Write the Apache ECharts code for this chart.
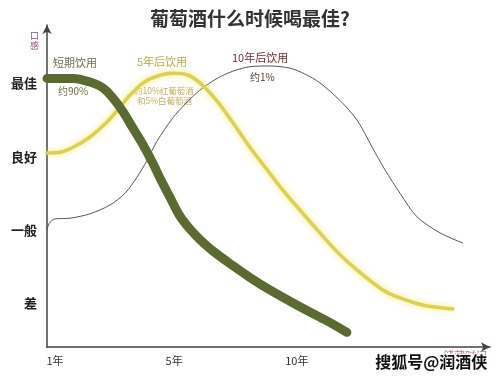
<!DOCTYPE html>
<html><head><meta charset="utf-8">
<script src="https://cdn.jsdelivr.net/npm/echarts@6/dist/echarts.min.js"></script>
<style>html,body{margin:0;padding:0;background:#fff}#c{width:500px;height:382px}</style>
</head><body><div id="c"></div>
<script>
// x: time position (0..100 along axis), y: taste level (1=差 .. 4=最佳)
const xTickPos = [1.8, 28.7, 56.4];
const xTickLabels = ['1年', '5年', '10年'];
const yTickPos = [1, 2, 3, 4];
const yTickLabels = ['差', '一般', '良好', '最佳'];

const shortTermX = [0, 5.9, 9.7, 12.6, 14.9, 17.2, 19.4, 21.7, 23.9, 25.5, 27.8, 30.0, 32.3, 34.5, 37.5, 42.0, 45.8, 50.3, 57.1, 62.8, 67.7];
const shortTermY = [4.07, 4.07, 4.02, 3.94, 3.80, 3.61, 3.39, 3.16, 2.91, 2.71, 2.44, 2.19, 2.01, 1.87, 1.71, 1.51, 1.35, 1.18, 0.95, 0.77, 0.60];

const fiveYearX = [0, 2.9, 5.9, 9.7, 13.5, 16.5, 18.7, 21.7, 24.8, 28.4, 31.6, 34.5, 38.4, 42.0, 45.8, 49.7, 53.3, 57.1, 61.6, 65.5, 70.0, 75.8, 79.7, 85.0, 91.6];
const fiveYearY = [3.05, 3.06, 3.13, 3.27, 3.47, 3.68, 3.84, 4.01, 4.10, 4.14, 4.12, 4.01, 3.76, 3.46, 3.13, 2.82, 2.54, 2.27, 1.96, 1.70, 1.45, 1.18, 1.07, 0.97, 0.92];

const tenYearX = [0, 0.5, 1.8, 5.2, 9.7, 14.2, 17.6, 20.3, 22.6, 24.8, 28.4, 31.2, 34.5, 38.4, 42.0, 45.8, 50.3, 54.9, 58.2, 61.6, 66.1, 70.0, 73.4, 76.3, 79.7, 83.5, 88.7, 93.9];
const tenYearY = [2.00, 2.09, 2.15, 2.16, 2.22, 2.34, 2.50, 2.72, 2.95, 3.21, 3.53, 3.72, 3.91, 4.07, 4.17, 4.23, 4.24, 4.21, 4.13, 4.01, 3.77, 3.50, 3.13, 2.82, 2.50, 2.18, 1.96, 1.82];

const zip = (xs, ys) => xs.map((x, i) => [x, ys[i]]);
const FONT = '"Noto Sans CJK SC", "Noto Sans", sans-serif';

const chart = echarts.init(document.getElementById('c'), null, {renderer: 'canvas'});
chart.setOption({
  backgroundColor: '#fff',
  animation: false,
  title: {
    text: '葡萄酒什么时候喝最佳?',
    left: 'center', top: 4,
    textStyle: {fontFamily: FONT, fontSize: 19, fontWeight: 'bold', color: '#333'}
  },
  grid: {left: 47, right: 10, top: 25, bottom: 35, containLabel: false},
  xAxis: {
    type: 'value', min: 0, max: 100,
    axisLine: {show: true, symbol: ['none', 'arrow'], symbolSize: [7, 9], lineStyle: {color: '#444', width: 1.5}},
    axisTick: {show: false},
    splitLine: {show: false},
    axisLabel: {
      customValues: xTickPos,
      formatter: v => xTickLabels[xTickPos.indexOf(v)] || '',
      fontFamily: FONT, fontSize: 11, color: '#333', margin: 8
    }
  },
  yAxis: {
    type: 'value', min: 0.4, max: 4.8,
    axisLine: {show: true, symbol: ['none', 'arrow'], symbolSize: [7, 9], lineStyle: {color: '#444', width: 1.5}},
    axisTick: {show: false},
    splitLine: {show: false},
    axisLabel: {
      customValues: yTickPos,
      formatter: v => yTickLabels[yTickPos.indexOf(v)] || '',
      fontFamily: FONT, fontSize: 13, fontWeight: 'bold', color: '#222', margin: 10
    }
  },
  series: [
    {
      name: '10年后饮用', type: 'line', smooth: 0.3, showSymbol: false,
      data: zip(tenYearX, tenYearY),
      lineStyle: {color: '#555560', width: 1}, z: 2
    },
    {
      name: '5年后饮用', type: 'line', smooth: 0.3, showSymbol: false,
      data: zip(fiveYearX, fiveYearY),
      lineStyle: {color: '#ddcf50', width: 3.5, shadowColor: 'rgba(240,228,100,0.9)', shadowBlur: 6, cap: 'round'}, z: 3
    },
    {
      name: '短期饮用', type: 'line', smooth: 0.35, showSymbol: false,
      data: zip(shortTermX, shortTermY),
      lineStyle: {color: '#5a6a30', width: 9, cap: 'round'}, z: 4
    }
  ],
  graphic: [
    {type: 'text', left: 30, top: 31, style: {text: '口\n感', lineHeight: 10, font: '9px ' + FONT, fill: '#a04a70'}},
    {type: 'text', left: 53, top: 57, style: {text: '短期饮用', font: '11px ' + FONT, fill: '#6a7050'}},
    {type: 'text', left: 58, top: 86, style: {text: '约90%', font: '10px ' + FONT, fill: '#707040'}},
    {type: 'text', left: 137, top: 56, style: {text: '5年后饮用', font: '11px ' + FONT, fill: '#b5b050'}},
    {type: 'text', left: 134, top: 87, style: {text: '约10%红葡萄酒', font: '8.5px ' + FONT, fill: '#c4b060'}},
    {type: 'text', left: 137, top: 97, style: {text: '和5%白葡萄酒', font: '8.5px ' + FONT, fill: '#c4b060'}},
    {type: 'text', left: 232, top: 52, style: {text: '10年后饮用', font: '11px ' + FONT, fill: '#7a2a35'}},
    {type: 'text', left: 250, top: 72, style: {text: '约1%', font: '10px ' + FONT, fill: '#5a3a3a'}},
    {type: 'text', left: 443, top: 350, z: 10, style: {text: '储藏时间', font: '11px ' + FONT, fill: '#c07090'}},
    {type: 'text', left: 374, top: 353, z: 20, style: {text: '搜狐号@润酒侠', font: 'bold 16px ' + FONT, fill: '#111', stroke: '#fff', lineWidth: 2.5}}
  ]
});
</script>
</body></html>
